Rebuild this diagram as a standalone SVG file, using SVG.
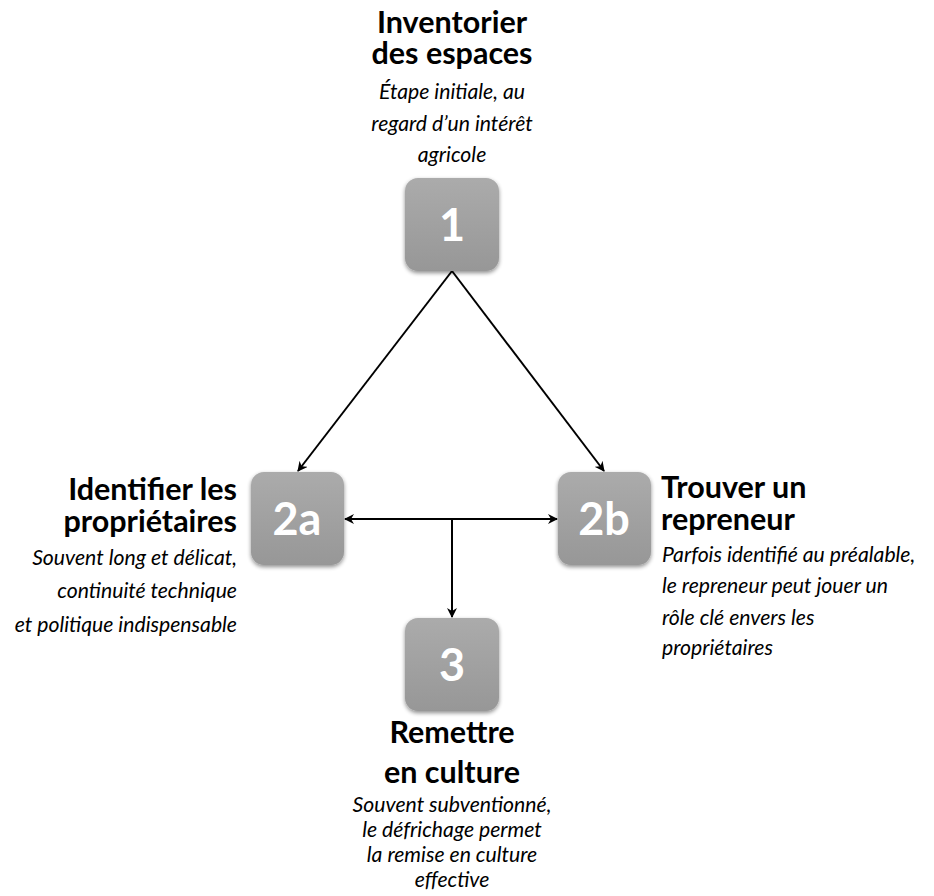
<svg xmlns="http://www.w3.org/2000/svg" width="934" height="896" viewBox="0 0 934 896">
<style>
.t{font-family:Lato,"Open Sans","Liberation Sans",sans-serif;font-weight:bold;font-size:30.5px;fill:#000}
.s{font-family:Lato,"Open Sans","Liberation Sans",sans-serif;font-style:italic;font-size:21.2px;fill:#000}
.n{font-family:Lato,"Open Sans","Liberation Sans",sans-serif;font-weight:bold;font-size:45px;fill:#fff;text-anchor:middle}
.c{text-anchor:middle}
.r{text-anchor:end}
.box{fill:url(#g);filter:url(#sh)}
.ln{stroke:#000;stroke-width:2;fill:none}
</style>
<defs>
<linearGradient id="g" x1="0" y1="0" x2="0" y2="1">
<stop offset="0" stop-color="#ababab"/>
<stop offset="1" stop-color="#979797"/>
</linearGradient>
<filter id="sh" x="-20%" y="-20%" width="140%" height="150%">
<feGaussianBlur in="SourceAlpha" stdDeviation="2"/>
<feOffset dy="2"/>
<feComponentTransfer><feFuncA type="linear" slope="0.45"/></feComponentTransfer>
<feMerge><feMergeNode/><feMergeNode in="SourceGraphic"/></feMerge>
</filter>
<marker id="a" markerWidth="10" markerHeight="10" refX="9" refY="5" orient="auto-start-reverse" markerUnits="userSpaceOnUse">
<path d="M0,0 L10,5 L0,10 L3,5 z" fill="#000"/>
</marker>
</defs>
<g id="connectors">
<line class="ln" x1="452" y1="271" x2="298" y2="471" marker-end="url(#a)"/>
<line class="ln" x1="452" y1="271" x2="604" y2="471" marker-end="url(#a)"/>
<line class="ln" x1="345" y1="519" x2="557" y2="519" marker-start="url(#a)" marker-end="url(#a)"/>
<line class="ln" x1="452" y1="519" x2="452" y2="617" marker-end="url(#a)"/>
</g>
<g id="node1">
<rect class="box" x="405" y="178" width="94" height="93" rx="13"/>
<text class="n" x="452" y="241">1</text>
<text class="t c"><tspan x="452" y="33">Inventorier</tspan><tspan x="452" y="64">des espaces</tspan></text>
<text class="s c"><tspan x="452" y="99">Étape initiale, au</tspan><tspan x="452" y="131">regard d’un intérêt</tspan><tspan x="452" y="162">agricole</tspan></text>
</g>
<g id="node2a">
<rect class="box" x="251" y="472" width="93" height="93" rx="13"/>
<text class="n" x="297" y="535">2a</text>
<text class="t r"><tspan x="237" y="500">Identifier les</tspan><tspan x="237" y="532">propriétaires</tspan></text>
<text class="s r"><tspan x="237" y="565">Souvent long et délicat,</tspan><tspan x="237" y="598">continuité technique</tspan><tspan x="237" y="632">et politique indispensable</tspan></text>
</g>
<g id="node2b">
<rect class="box" x="558" y="472" width="93" height="93" rx="13"/>
<text class="n" x="604" y="535">2b</text>
<text class="t"><tspan x="661" y="498">Trouver un</tspan><tspan x="661" y="530">repreneur</tspan></text>
<text class="s"><tspan x="662" y="562">Parfois identifié au préalable,</tspan><tspan x="662" y="593">le repreneur peut jouer un</tspan><tspan x="662" y="625">rôle clé envers les</tspan><tspan x="662" y="655">propriétaires</tspan></text>
</g>
<g id="node3">
<rect class="box" x="405" y="618" width="94" height="93" rx="13"/>
<text class="n" x="452" y="681">3</text>
<text class="t c"><tspan x="452" y="743">Remettre</tspan><tspan x="452" y="783">en culture</tspan></text>
<text class="s c"><tspan x="452" y="812">Souvent subventionné,</tspan><tspan x="452" y="837">le défrichage permet</tspan><tspan x="452" y="862">la remise en culture</tspan><tspan x="452" y="887">effective</tspan></text>
</g>
</svg>
